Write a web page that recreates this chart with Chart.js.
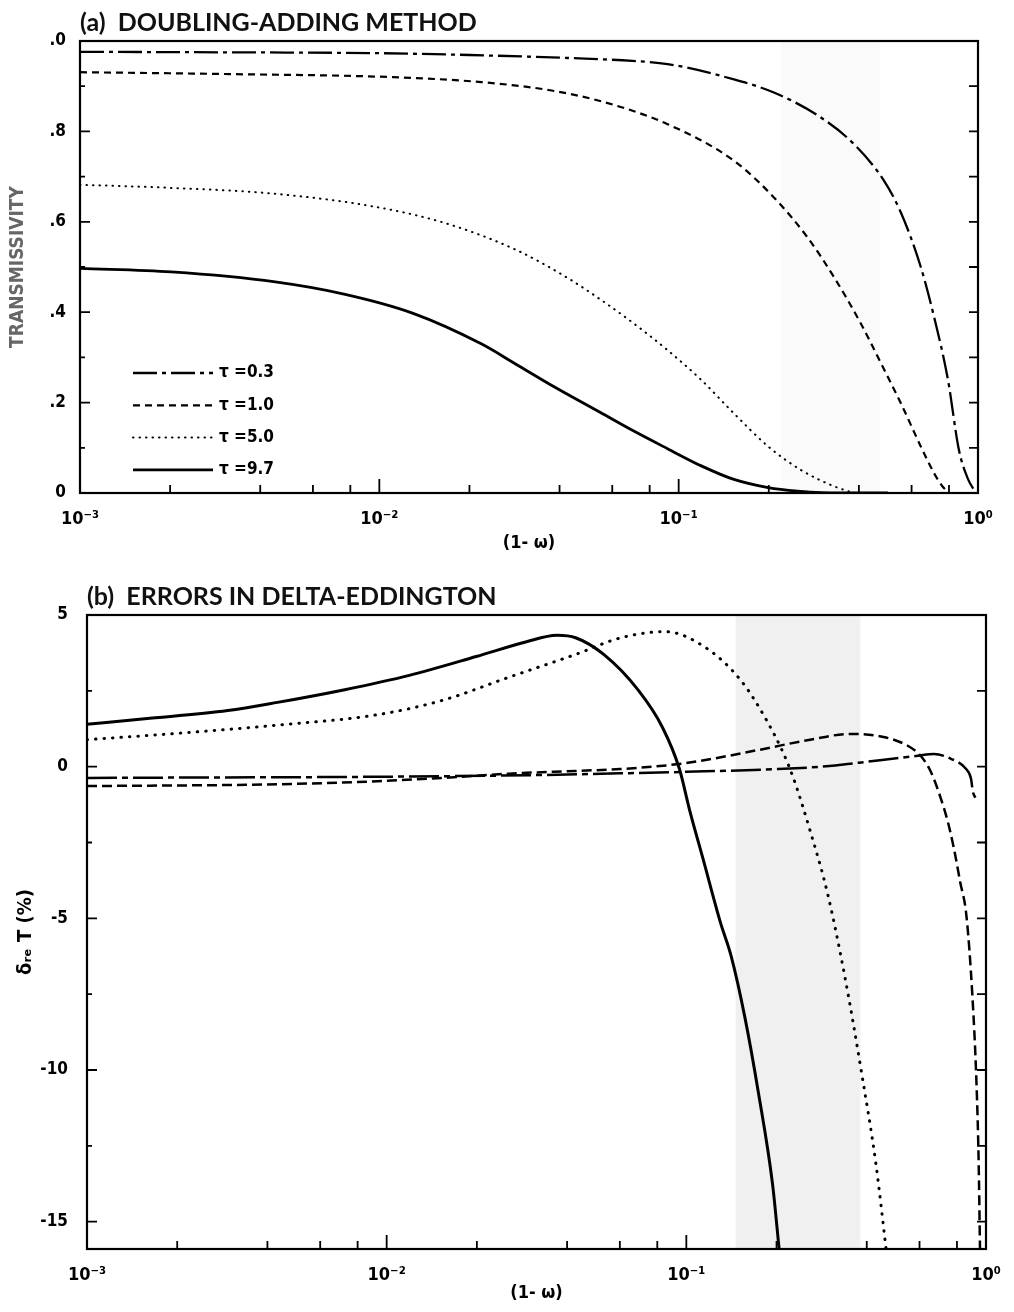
<!DOCTYPE html>
<html>
<head>
<meta charset="utf-8">
<script src="https://cdn.jsdelivr.net/npm/chart.js@4.4.0/dist/chart.umd.min.js"></script>
<style>
  body { margin: 0; background: #fff; }
  .panel { position: absolute; left: 0; width: 1014px; }
</style>
</head>
<body>
<div class="panel" style="top:0; height:560px"><canvas id="chartA" width="1014" height="560"></canvas></div>
<div class="panel" style="top:560px; height:752px"><canvas id="chartB" width="1014" height="752"></canvas></div>
<script>
// legend labels (same for both panels)
const tauLabels = ["τ =0.3", "τ =1.0", "τ =5.0", "τ =9.7"]

// x axis ticks, (1 - omega), log scale
const xTicks = [0.001, 0.002, 0.004, 0.006, 0.008, 0.01, 0.02, 0.04, 0.06, 0.08, 0.1, 0.2, 0.4, 0.6, 0.8, 1]
const xMajor = [0.001, 0.01, 0.1, 1]
const xMajorLabels = ["10⁻³", "10⁻²", "10⁻¹", "10⁰"]

// panel (a): transmissivity
const yTicksA = [0, 0.1, 0.2, 0.3, 0.4, 0.5, 0.6, 0.7, 0.8, 0.9, 1.0]
const yMajorA = [0, 0.2, 0.4, 0.6, 0.8, 1.0]
const yMajorLabelsA = ["0", ".2", ".4", ".6", ".8", ".0"]

const a03x = [0.001, 0.003, 0.01, 0.02, 0.0486, 0.07, 0.0918, 0.153, 0.208, 0.292, 0.385, 0.485, 0.552, 0.644, 0.713, 0.794, 0.863, 0.927, 0.985]
const a03y = [0.976, 0.975, 0.973, 0.969, 0.961, 0.956, 0.949, 0.915, 0.886, 0.835, 0.772, 0.691, 0.621, 0.5, 0.39, 0.25, 0.096, 0.03, 0]

const a10x = [0.001, 0.003, 0.0111, 0.0219, 0.0372, 0.0569, 0.0918, 0.153, 0.208, 0.269, 0.33, 0.406, 0.474, 0.552, 0.644, 0.713, 0.76, 0.794]
const a10y = [0.931, 0.927, 0.92, 0.909, 0.891, 0.864, 0.816, 0.735, 0.654, 0.566, 0.478, 0.375, 0.287, 0.199, 0.103, 0.044, 0.015, 0.003]

const a50x = [0.001, 0.00202, 0.00449, 0.0099, 0.0168, 0.0286, 0.0425, 0.0548, 0.0708, 0.0918, 0.119, 0.153, 0.199, 0.256, 0.33, 0.385]
const a50y = [0.682, 0.675, 0.662, 0.632, 0.596, 0.538, 0.476, 0.428, 0.375, 0.316, 0.25, 0.176, 0.103, 0.051, 0.015, 0]

const a97x = [0.001, 0.00202, 0.00449, 0.00762, 0.0129, 0.0219, 0.0286, 0.0372, 0.0548, 0.0708, 0.0918, 0.119, 0.153, 0.199, 0.25, 0.3, 0.5]
const a97y = [0.497, 0.489, 0.467, 0.44, 0.398, 0.33, 0.285, 0.24, 0.178, 0.137, 0.098, 0.06, 0.03, 0.012, 0.004, 0.001, 0]

// panel (b): relative error of delta-Eddington, percent
const yTicksB = [-15, -12.5, -10, -7.5, -5, -2.5, 0, 2.5, 5]
const yMajorB = [-15, -10, -5, 0, 5]
const yMajorLabelsB = ["-15", "-10", "-5", "0", "5"]

const b03x = [0.001, 0.01, 0.03, 0.06, 0.1, 0.2, 0.3, 0.353, 0.45, 0.592, 0.67, 0.764, 0.857, 0.891, 0.904, 0.925]
const b03y = [-0.37, -0.33, -0.28, -0.22, -0.17, -0.08, 0.02, 0.1, 0.22, 0.36, 0.42, 0.26, -0.07, -0.39, -0.82, -1.05]

const b10x = [0.001, 0.0043, 0.0093, 0.0154, 0.0256, 0.0427, 0.06, 0.1, 0.174, 0.259, 0.353, 0.455, 0.548, 0.605, 0.654, 0.707, 0.745, 0.781, 0.82, 0.86, 0.9, 0.93, 0.945, 0.955]
const b10y = [-0.64, -0.58, -0.48, -0.37, -0.23, -0.14, -0.08, 0.12, 0.55, 0.89, 1.08, 0.98, 0.69, 0.36, -0.16, -1.05, -1.8, -2.68, -3.8, -4.9, -7.5, -10.5, -13, -15.9]

const b50x = [0.001, 0.00201, 0.00432, 0.00927, 0.0154, 0.0256, 0.0427, 0.0605, 0.085, 0.117, 0.153, 0.184, 0.21, 0.227, 0.259, 0.296, 0.338, 0.386, 0.429, 0.464]
const b50y = [0.89, 1.1, 1.37, 1.71, 2.19, 2.95, 3.7, 4.25, 4.45, 3.9, 2.81, 1.58, 0.48, -0.34, -2.12, -4.18, -6.92, -10.2, -13.08, -15.9]

const b97x = [0.001, 0.00156, 0.00295, 0.00432, 0.00718, 0.0119, 0.0199, 0.0291, 0.037, 0.0427, 0.053, 0.069, 0.0832, 0.0948, 0.1026, 0.114, 0.13, 0.141, 0.157, 0.174, 0.194, 0.204]
const b97y = [1.4, 1.58, 1.85, 2.12, 2.53, 3.01, 3.63, 4.11, 4.33, 4.25, 3.7, 2.53, 1.3, -0.07, -1.44, -3.08, -5.14, -6.23, -8.29, -10.75, -13.77, -15.9]

// light scan band in the original figure, (1 - omega) range
const bandA = [0.22, 0.47]
const bandB = [0.146, 0.381]

Chart.defaults.color = "#000"
Chart.defaults.font.family = "'DejaVu Sans Condensed', 'DejaVu Sans', sans-serif"

const pick = (vals, labels) => v => {
    const i = vals.findIndex(m => Math.abs(m - v) < 1e-9 + Math.abs(m) * 1e-6)
    return i >= 0 ? labels[i] : ""
}

// frame, inward tick marks, shaded band and the line legend
const decorPlugin = {
    id: "decor",
    beforeDatasetsDraw(chart, args, opts) {
        if (!opts.band) return
        const { ctx, chartArea: a, scales } = chart
        const x0 = scales.x.getPixelForValue(opts.band[0])
        const x1 = scales.x.getPixelForValue(opts.band[1])
        ctx.save()
        ctx.fillStyle = opts.bandColor
        ctx.fillRect(x0, a.top, x1 - x0, a.bottom - a.top)
        ctx.restore()
    },
    afterDatasetsDraw(chart, args, opts) {
        const { ctx, chartArea: a, scales } = chart
        ctx.save()
        ctx.strokeStyle = "#000"
        ctx.lineWidth = 2.2
        ctx.strokeRect(a.left, a.top, a.right - a.left, a.bottom - a.top)

        ctx.lineWidth = 1.8
        ctx.beginPath()
        scales.x.ticks.forEach(t => {
            const px = scales.x.getPixelForValue(t.value)
            const len = t.label ? 14 : 8
            ctx.moveTo(px, a.bottom)
            ctx.lineTo(px, a.bottom - len)
        })
        scales.y.ticks.forEach(t => {
            const py = scales.y.getPixelForValue(t.value)
            ctx.moveTo(a.left, py)
            ctx.lineTo(a.left + (t.label ? 10 : 5), py)
            ctx.moveTo(a.right, py)
            ctx.lineTo(a.right - 9, py)
        })
        ctx.stroke()

        if (opts.legend) {
            const lg = opts.legend
            chart.data.datasets.forEach((ds, i) => {
                const y = a.bottom - lg.top + i * lg.step
                ctx.lineWidth = ds.borderWidth
                ctx.lineCap = ds.borderCapStyle || "butt"
                ctx.setLineDash(ds.borderDash || [])
                ctx.beginPath()
                ctx.moveTo(a.left + lg.x, y)
                ctx.lineTo(a.left + lg.x + lg.len, y)
                ctx.stroke()
                ctx.setLineDash([])
                ctx.fillStyle = "#000"
                ctx.font = lg.font
                ctx.textBaseline = "middle"
                ctx.fillText(ds.label, a.left + lg.x + lg.len + 6, y)
            })
        }
        ctx.restore()
    }
}

const series = (xs, ys, label, style) => ({
    label: label,
    data: xs.map((x, i) => ({ x: x, y: ys[i] })),
    borderColor: "#000",
    pointRadius: 0,
    fill: false,
    cubicInterpolationMode: "monotone",
    ...style
})

const xScale = (axisHeight, tickPad, titlePad) => ({
    type: "logarithmic",
    min: 0.001,
    max: 1,
    grid: { display: false },
    border: { display: false },
    afterBuildTicks: s => { s.ticks = xTicks.map(v => ({ value: v })) },
    afterFit: s => { s.height = axisHeight },
    ticks: {
        autoSkip: false,
        maxRotation: 0,
        padding: tickPad,
        font: { size: 18, weight: "bold" },
        callback: pick(xMajor, xMajorLabels)
    },
    title: {
        display: true,
        text: "(1- ω)",
        font: { size: 18, weight: "bold" },
        padding: { top: 0, bottom: titlePad }
    }
})

const yScale = (min, max, ticks, major, labels, width, tickPad, title) => ({
    type: "linear",
    min: min,
    max: max,
    grid: { display: false },
    border: { display: false },
    afterBuildTicks: s => { s.ticks = ticks.map(v => ({ value: v })) },
    afterFit: s => { s.width = width },
    ticks: {
        autoSkip: false,
        padding: tickPad,
        font: { size: 17, weight: "bold" },
        callback: pick(major, labels)
    },
    title: title
})

const titleOpts = (text, padTop) => ({
    display: true,
    text: text,
    align: "start",
    fullSize: false,
    color: "#111",
    font: { family: "Lato, 'Open Sans', sans-serif", size: 25, weight: "bold" },
    padding: { top: padTop, bottom: 3 }
})

// ---- panel (a)
new Chart(document.getElementById("chartA"), {
    type: "line",
    data: {
        datasets: [
            series(a03x, a03y, tauLabels[0], { borderWidth: 2.3, borderDash: [24, 5, 4, 5] }),
            series(a10x, a10y, tauLabels[1], { borderWidth: 2.2, borderDash: [7, 5] }),
            series(a50x, a50y, tauLabels[2], { borderWidth: 2, borderDash: [0.5, 6], borderCapStyle: "round" }),
            series(a97x, a97y, tauLabels[3], { borderWidth: 2.8, borderDash: [] })
        ]
    },
    options: {
        responsive: false,
        animation: false,
        layout: { padding: { left: 0, right: 36, top: 0, bottom: 0 } },
        plugins: {
            legend: { display: false },
            tooltip: { enabled: false },
            title: titleOpts("(a)  DOUBLING-ADDING METHOD", 8),
            decor: {
                band: bandA,
                bandColor: "#fafafa",
                legend: { x: 53, len: 80, top: 120, step: 32.3, font: "bold 17px 'DejaVu Sans Condensed'" }
            }
        },
        scales: {
            x: xScale(67, 8, 6),
            y: yScale(0, 1, yTicksA, yMajorA, yMajorLabelsA, 80, 6, {
                display: true,
                text: "TRANSMISSIVITY",
                color: "#666",
                font: { family: "'Liberation Sans Narrow', 'DejaVu Sans Condensed', sans-serif", size: 19, weight: "bold" },
                padding: { top: 7, bottom: 0 }
            })
        }
    },
    plugins: [decorPlugin]
})

// ---- panel (b)
new Chart(document.getElementById("chartB"), {
    type: "line",
    data: {
        datasets: [
            series(b03x, b03y, tauLabels[0], { borderWidth: 2.5, borderDash: [30, 5, 6, 5] }),
            series(b10x, b10y, tauLabels[1], { borderWidth: 2.5, borderDash: [10, 5] }),
            series(b50x, b50y, tauLabels[2], { borderWidth: 3, borderDash: [0.5, 8], borderCapStyle: "round" }),
            series(b97x, b97y, tauLabels[3], { borderWidth: 3, borderDash: [] })
        ]
    },
    options: {
        responsive: false,
        animation: false,
        layout: { padding: { left: 0, right: 28, top: 0, bottom: 0 } },
        plugins: {
            legend: { display: false },
            tooltip: { enabled: false },
            title: titleOpts("(b)  ERRORS IN DELTA-EDDINGTON", 22),
            decor: { band: bandB, bandColor: "#f0f0f0" }
        },
        scales: {
            x: xScale(63, 8, 8),
            y: yScale(-15.9, 5, yTicksB, yMajorB, yMajorLabelsB, 87, 11, {
                display: true,
                text: "δᵣₑ T (%)",
                font: { size: 20, weight: "bold" },
                padding: { top: 14, bottom: 0 }
            })
        }
    },
    plugins: [decorPlugin]
})
</script>
</body>
</html>
